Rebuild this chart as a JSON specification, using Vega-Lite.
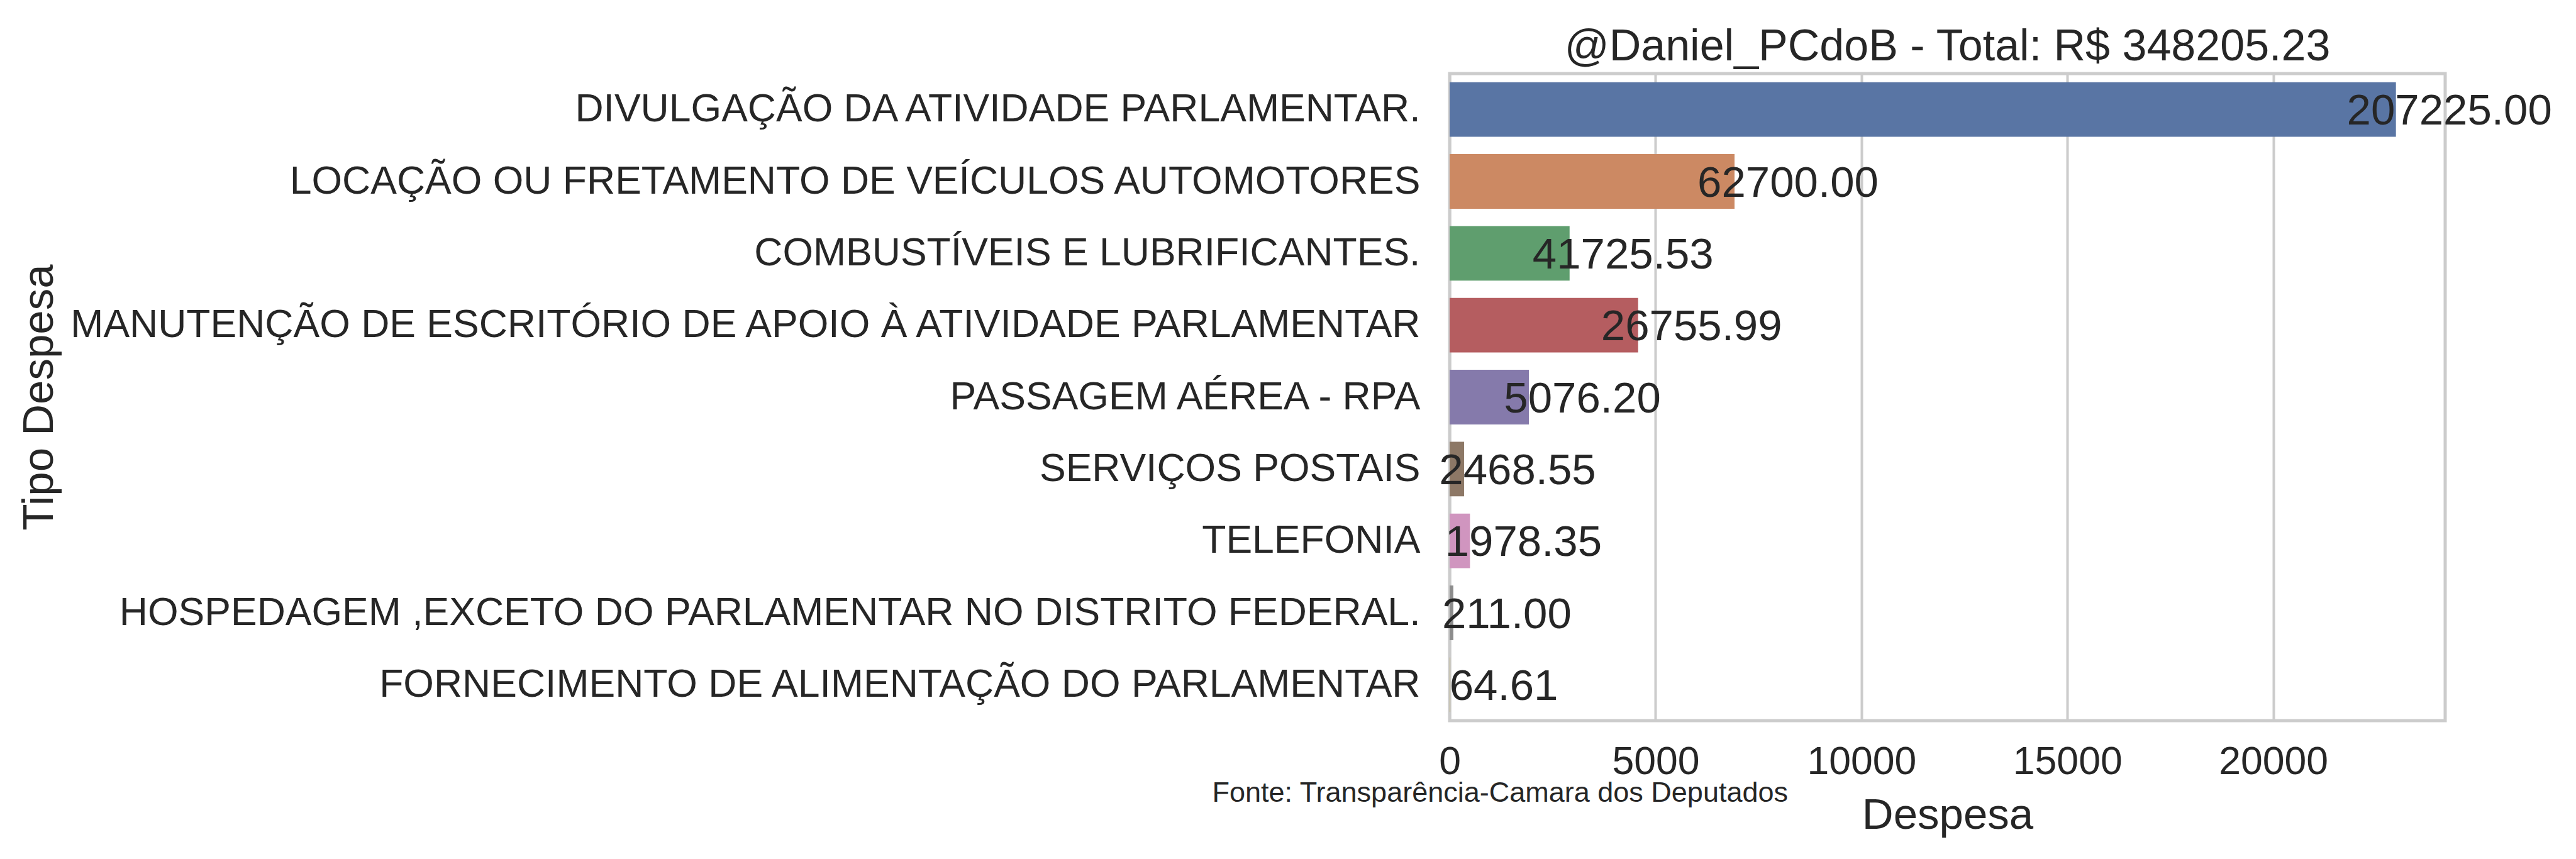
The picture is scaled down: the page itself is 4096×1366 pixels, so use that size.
{
  "$schema": "https://vega.github.io/schema/vega-lite/v6.json",
  "width": 1583,
  "height": 1029,
  "autosize": {"type": "none"},
  "padding": {"left": 2305, "top": 117, "right": 208, "bottom": 220},
  "background": "white",
  "config": {
    "font": "Liberation Sans",
    "view": {"stroke": "#cccccc", "strokeWidth": 5},
    "text": {"font": "Liberation Sans"}
  },
  "title": {
    "text": "@Daniel_PCdoB - Total: R$ 348205.23",
    "fontSize": 70,
    "fontWeight": "normal",
    "color": "#262626",
    "font": "Liberation Sans",
    "anchor": "middle",
    "baseline": "alphabetic",
    "offset": 27,
    "dy": 76
  },
  "data": {
    "values": [
      {"tipo": "DIVULGAÇÃO DA ATIVIDADE PARLAMENTAR.", "despesa": 22978, "total": 207225.00},
      {"tipo": "LOCAÇÃO OU FRETAMENTO DE VEÍCULOS AUTOMOTORES", "despesa": 6918, "total": 62700.00},
      {"tipo": "COMBUSTÍVEIS E LUBRIFICANTES.", "despesa": 2913, "total": 41725.53},
      {"tipo": "MANUTENÇÃO DE ESCRITÓRIO DE APOIO À ATIVIDADE PARLAMENTAR", "despesa": 4577, "total": 26755.99},
      {"tipo": "PASSAGEM AÉREA - RPA", "despesa": 1925, "total": 5076.20},
      {"tipo": "SERVIÇOS POSTAIS", "despesa": 351, "total": 2468.55},
      {"tipo": "TELEFONIA", "despesa": 494, "total": 1978.35},
      {"tipo": "HOSPEDAGEM ,EXCETO DO PARLAMENTAR NO DISTRITO FEDERAL.", "despesa": 90, "total": 211.00},
      {"tipo": "FORNECIMENTO DE ALIMENTAÇÃO DO PARLAMENTAR", "despesa": 16, "total": 64.61}
    ]
  },
  "layer": [
    {
      "mark": {"type": "bar"},
      "encoding": {
        "y": {
          "field": "tipo",
          "type": "nominal",
          "sort": null,
          "scale": {"paddingInner": 0.24, "paddingOuter": 0.12},
          "axis": {
            "title": "Tipo Despesa",
            "titleFontSize": 69,
            "titleFontWeight": "normal",
            "titleColor": "#262626",
            "titleX": -2222,
            "titleY": 514.5,
            "titleBaseline": "alphabetic",
            "titleAngle": 270,
            "labelFontSize": 62.5,
            "labelColor": "#262626",
            "labelPadding": 47,
            "labelLimit": 3000,
            "ticks": false,
            "domain": false,
            "grid": false
          }
        },
        "x": {
          "field": "despesa",
          "type": "quantitative",
          "scale": {"domain": [0, 24174], "nice": false},
          "axis": {
            "orient": "bottom",
            "title": "Despesa",
            "titleFontSize": 69,
            "titleFontWeight": "normal",
            "titleColor": "#262626",
            "titleY": 171,
            "titleBaseline": "alphabetic",
            "values": [0, 5000, 10000, 15000, 20000],
            "format": "d",
            "labelFontSize": 62.5,
            "labelColor": "#262626",
            "labelPadding": 84,
            "labelBaseline": "alphabetic",
            "labelFlush": false,
            "ticks": false,
            "domain": false,
            "grid": true,
            "gridColor": "#cccccc",
            "gridWidth": 4
          }
        },
        "color": {
          "field": "tipo",
          "type": "nominal",
          "sort": null,
          "scale": {
            "domain": [
              "DIVULGAÇÃO DA ATIVIDADE PARLAMENTAR.",
              "LOCAÇÃO OU FRETAMENTO DE VEÍCULOS AUTOMOTORES",
              "COMBUSTÍVEIS E LUBRIFICANTES.",
              "MANUTENÇÃO DE ESCRITÓRIO DE APOIO À ATIVIDADE PARLAMENTAR",
              "PASSAGEM AÉREA - RPA",
              "SERVIÇOS POSTAIS",
              "TELEFONIA",
              "HOSPEDAGEM ,EXCETO DO PARLAMENTAR NO DISTRITO FEDERAL.",
              "FORNECIMENTO DE ALIMENTAÇÃO DO PARLAMENTAR"
            ],
            "range": ["#5975a4", "#cc8963", "#5f9e6e", "#b55d60", "#857aab", "#8d7866", "#d095bf", "#8c8c8c", "#c1b37f"]
          },
          "legend": null
        }
      }
    },
    {
      "mark": {
        "type": "text",
        "align": "center",
        "baseline": "middle",
        "dx": 85,
        "dy": 3,
        "fontSize": 69,
        "color": "#262626",
        "font": "Liberation Sans"
      },
      "encoding": {
        "y": {"field": "tipo", "type": "nominal", "sort": null, "title": "Tipo Despesa"},
        "x": {
          "field": "despesa",
          "type": "quantitative",
          "axis": {
            "orient": "bottom",
            "title": "Fonte: Transparência-Camara dos Deputados",
            "titleFontSize": 45,
            "titleFontWeight": "normal",
            "titleColor": "#262626",
            "titleX": -378,
            "titleY": 128,
            "titleAlign": "left",
            "titleAnchor": "start",
            "titleBaseline": "alphabetic",
            "labels": false,
            "ticks": false,
            "domain": false,
            "grid": false
          }
        },
        "text": {"field": "total", "type": "quantitative", "format": ".2f"}
      }
    }
  ],
  "resolve": {"axis": {"x": "independent"}}
}
